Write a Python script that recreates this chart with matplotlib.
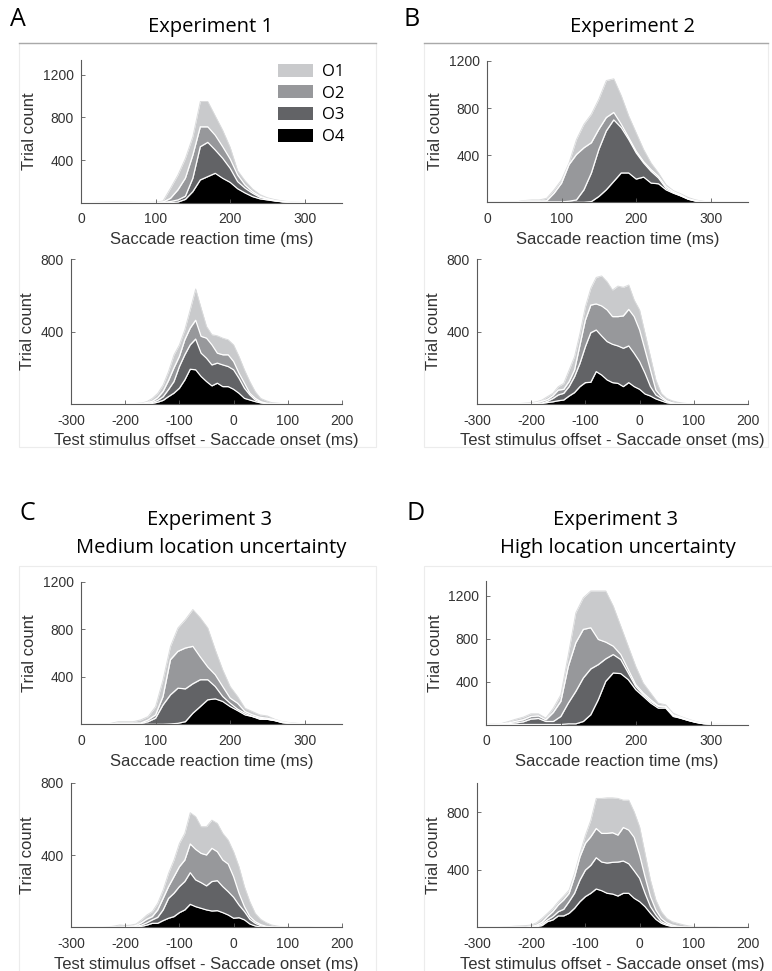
import numpy as np
import matplotlib
matplotlib.use("Agg")
import matplotlib.pyplot as plt
from matplotlib.patches import Rectangle, Patch
from matplotlib.lines import Line2D

plt.rcParams["axes.unicode_minus"] = False

W, H = 772, 971

# bin centres (ms)
rt_bins = list(range(0, 351, 10))
off_bins = list(range(-300, 201, 10))

# stacked trial counts.
# *_o4 = top of O4 layer, *_o3 = top of O3 layer (O4+O3), *_o2 = O4+O3+O2, *_o1 = total

# Experiment 1
a_rt_o4 = [0,0,0,0,0,0,0,0,0,0, 0,0,0,5,30,103,213,244,275,228, 190,130,90,56,35,25,15,7,3,1, 0,0,0,0,0,0]
a_rt_o3 = [0,0,0,0,1,1,1,0,0,0, 0,2,10,25,60,229,525,566,494,416, 322,197,135,88,50,33,18,8,3,1, 0,0,0,0,0,0]
a_rt_o2 = [0,0,1,1,2,2,2,1,1,1, 1,5,40,120,230,447,712,712,633,525, 410,260,165,103,60,35,20,10,4,2, 0,0,0,0,0,0]
a_rt_o1 = [0,0,2,3,5,6,5,3,2,2, 3,15,135,260,416,620,950,950,815,680, 520,300,205,128,75,45,28,15,8,3, 1,0,0,0,0,0]

a_off_o4 = [0,0,0,0,0,0,0,0,0,0, 0,0,0,0,1,3,10,20,41,60, 87,133,192,189,152,124,100,115,96,96,
            81,59,31,22,13,6,2,0,0,0, 0,0,0,0,0,0,0,0,0,0,0]
a_off_o3 = [0,0,0,0,0,0,0,0,0,0, 0,0,0,1,3,8,20,40,80,124, 207,272,327,359,281,253,216,226,216,207,
            189,142,87,50,22,9,3,0,0,0, 0,0,0,0,0,0,0,0,0,0,0]
a_off_o2 = [0,0,0,0,0,0,0,0,0,0, 0,0,1,3,8,15,35,70,130,200, 263,355,420,463,374,364,327,281,272,272,
            235,170,115,59,31,13,5,2,0,0, 0,0,0,0,0,0,0,0,0,0,0]
a_off_o1 = [0,0,0,0,0,0,0,0,0,0, 0,1,3,5,13,31,59,105,180,272, 327,411,522,636,531,429,383,377,364,355,
            327,263,189,124,68,31,18,8,5,2, 2,2,2,2,2,0,0,0,0,0,0]

# Experiment 2
b_rt_o4 = [0,0,0,0,0,0,0,0,0,0, 0,0,0,0,6,49,106,177,249,249, 197,214,163,157,106,77,54,26,10,3, 0,0,0,0,0,0]
b_rt_o3 = [0,0,0,0,0,2,3,3,3,3, 3,9,20,106,249,449,606,700,634,534, 420,334,263,206,120,83,54,26,10,3, 0,0,0,0,0,0]
b_rt_o2 = [1,1,2,2,3,10,10,10,12,77, 163,320,406,463,506,620,720,763,663,549, 434,345,277,220,134,91,63,29,14,5, 2,0,0,0,0,0]
b_rt_o1 = [2,2,3,3,5,15,20,20,34,106, 191,334,534,663,749,877,1034,1049,906,734, 591,449,334,249,149,98,71,40,20,8, 3,0,0,0,0,0]

b_off_o4 = [0,0,0,0,0,0,0,0,0,0, 0,1,3,8,12,18,22,44,63,96, 118,120,179,160,133,118,114,96,118,96,
            81,55,44,28,17,7,2,0,0,0, 0,0,0,0,0,0,0,0,0,0,0]
b_off_o3 = [0,0,0,0,0,0,0,0,0,0, 1,3,5,15,30,50,59,96,151,225, 317,394,409,376,345,330,321,308,321,280,
            234,170,96,50,31,13,4,0,0,0, 0,0,0,0,0,0,0,0,0,0,0]
b_off_o2 = [0,0,0,0,0,0,0,0,0,0, 3,8,15,25,45,77,81,124,188,326, 464,547,553,542,520,483,483,487,523,483,
            409,299,188,77,41,18,7,2,0,0, 0,0,0,0,0,0,0,0,0,0,0]
b_off_o1 = [0,0,0,0,0,0,0,0,3,5, 7,12,22,41,59,96,114,188,262,391, 538,640,700,708,676,630,652,645,658,575,
            520,391,262,133,59,31,18,10,5,2, 2,2,2,2,0,0,0,0,0,0,0]

# Experiment 3, medium location uncertainty
c_rt_o4 = [0,0,0,0,0,0,0,0,0,0, 0,0,3,8,22,93,149,206,214,192, 149,115,79,65,42,42,31,14,7,2, 0,0,0,0,0,0]
c_rt_o3 = [0,0,0,0,2,5,5,5,5,22, 51,163,248,304,298,341,375,375,318,234, 177,127,93,65,51,42,31,14,8,3, 1,0,0,0,0,0]
c_rt_o2 = [0,0,1,1,4,10,10,10,10,37, 79,234,544,614,642,656,566,482,417,318, 220,177,107,79,59,51,37,20,10,5, 2,0,0,0,0,0]
c_rt_o1 = [1,1,2,2,8,22,22,22,37,65, 149,375,656,811,882,966,896,811,628,459, 318,234,135,107,79,70,42,22,14,8, 4,1,1,0,0,0]

c_off_o4 = [0,0,0,0,0,0,0,0,0,0, 0,1,3,5,12,22,22,37,50,59, 81,96,127,114,105,96,90,92,81,68,
            50,53,41,18,7,2,0,0,0,0, 0,0,0,0,0,0,0,0,0,0,0]
c_off_o3 = [0,0,0,0,0,0,0,0,0,0, 0,2,5,12,25,41,55,96,160,188, 225,253,302,262,247,229,253,258,225,197,
            166,123,87,44,22,9,3,0,0,0, 0,0,0,0,0,0,0,0,0,0,0]
c_off_o2 = [0,0,0,0,0,0,0,0,0,0, 2,5,10,25,45,59,96,160,225,280, 335,372,461,431,409,400,437,418,372,350,
            280,188,114,59,31,15,5,2,0,0, 0,0,0,0,0,0,0,0,0,0,0]
c_off_o1 = [0,0,0,0,0,0,0,3,7,13, 10,12,18,41,68,87,133,206,299,372, 464,520,634,612,557,557,593,575,520,483,
            418,335,225,142,77,44,26,13,7,3, 3,3,3,3,3,0,0,0,0,0,0]

# Experiment 3, high location uncertainty
d_rt_o4 = [0,0,0,0,0,0,0,0,0,0, 0,6,6,28,91,231,403,481,475,419, 325,263,200,153,153,75,59,38,20,8, 3,0,0,0,0,0]
d_rt_o3 = [0,1,3,8,15,25,50,56,28,28, 75,200,309,434,519,559,613,653,606,481, 356,278,216,169,163,84,59,38,20,8, 3,0,0,0,0,0]
d_rt_o2 = [1,3,5,15,30,45,75,81,44,113, 216,544,763,888,903,794,769,731,653,513, 372,294,231,175,169,91,69,44,25,10, 4,1,0,0,0,0]
d_rt_o1 = [2,6,8,28,50,69,100,100,59,153, 278,653,1044,1184,1247,1247,1247,1106,919,731, 544,388,294,200,184,106,75,50,28,12, 6,2,1,0,0,0]

d_off_o4 = [0,0,0,0,0,0,0,0,0,0, 1,4,12,39,51,79,79,97,132,178, 213,236,266,254,236,231,217,236,236,201,
            178,143,97,55,28,14,5,2,0,0, 0,0,0,0,0,0,0,0,0,0,0]
d_off_o3 = [0,0,0,0,0,0,0,0,0,0, 2,8,22,51,74,108,125,178,236,328, 397,430,483,453,446,451,453,460,441,392,
            340,236,143,86,39,21,9,3,0,0, 0,0,0,0,0,0,0,0,0,0,0]
d_off_o2 = [0,0,0,0,0,0,0,0,0,0, 5,15,35,74,108,155,190,236,351,490, 583,629,686,652,652,657,640,693,675,624,
            502,351,213,120,62,32,16,7,3,0, 0,0,0,0,0,0,0,0,0,0,0]
d_off_o1 = [0,0,0,0,0,3,5,8,10,12, 16,32,62,97,132,178,217,259,375,513, 640,744,895,895,899,899,895,883,883,802,
            698,513,328,190,109,62,39,28,18,10, 5,5,5,5,5,0,0,0,0,0,0]

labels = ["O1", "O2", "O3", "O4"]
colors = ["#c9cacc", "#97989b", "#626366", "#000000"]

TXT = "#333333"
AXC = "#5a5a5a"
TICKFONT = "Liberation Sans"
HEADFONT = "Open Sans"

fig = plt.figure(figsize=(W / 100, H / 100), dpi=100)


def add_ax(x0, y0, x1, y1):
    # pixel box -> figure fraction
    return fig.add_axes([x0 / W, 1 - y1 / H, (x1 - x0) / W, (y1 - y0) / H])


def stacked(ax, x, o4, o3, o2, o1, xlim, ylim, yticks, xticks, xlabel):
    layers = [np.zeros(len(x)), np.array(o4), np.array(o3), np.array(o2), np.array(o1)]
    fills = colors[::-1]
    for i in range(4):
        ax.fill_between(x, layers[i], layers[i + 1], color=fills[i], lw=0, zorder=1)
    for i in range(1, 4):
        ax.plot(x, layers[i], color="white", lw=0.9, zorder=1.5)
    ax.plot(x, layers[4], color="#dadbdc", lw=0.7, zorder=1.4)
    ax.set_xlim(*xlim)
    ax.set_ylim(0, ylim)
    ax.set_xticks(xticks)
    ax.set_yticks(yticks)
    for s in ["top", "right"]:
        ax.spines[s].set_visible(False)
    for s in ["left", "bottom"]:
        ax.spines[s].set_color(AXC)
        ax.spines[s].set_linewidth(0.8)
        ax.spines[s].set_zorder(3)
    ax.tick_params(direction="in", length=3, width=0.6, color=AXC, labelcolor=TXT, labelsize=10)
    ax.tick_params(axis="x", pad=7)
    ax.tick_params(axis="y", pad=5)
    for t in ax.get_xticklabels() + ax.get_yticklabels():
        t.set_fontfamily(TICKFONT)
    ax.set_xlabel(xlabel, fontsize=12, color=TXT, family=TICKFONT, labelpad=4)
    ax.set_ylabel("Trial count", fontsize=12, color=TXT, family=TICKFONT, labelpad=4)
    ax.patch.set_alpha(0)


rt_label = "Saccade reaction time (ms)"
off_label = "Test stimulus offset - Saccade onset (ms)"
rt_xt = [0, 100, 200, 300]
off_xt = [-300, -200, -100, 0, 100, 200]

# panel frames
def frame(x0, y0, x1, y1, head=None):
    fig.add_artist(Rectangle((x0 / W, 1 - y1 / H), (x1 - x0) / W, (y1 - y0) / H,
                             transform=fig.transFigure, fill=False, ec="#ececec", lw=0.8,
                             zorder=-1))
    if head:
        fig.add_artist(Line2D([x0 / W, x1 / W], [1 - y0 / H, 1 - y0 / H],
                              transform=fig.transFigure, color=head, lw=1.0, zorder=-1))

frame(19, 43, 376, 447, head="#a9a9a9")
frame(424, 43, 768, 447, head="#a9a9a9")
frame(19, 566, 376, 980)
frame(424, 566, 780, 980)

ax = add_ax(81, 60, 342, 202.6)
stacked(ax, rt_bins, a_rt_o4, a_rt_o3, a_rt_o2, a_rt_o1, (0, 350), 1340, [400, 800, 1200], rt_xt, rt_label)
handles = [Patch(facecolor=c, edgecolor="none") for c in colors]
leg = ax.legend(handles, labels, loc="upper left", bbox_to_anchor=(0.73, 1.02), frameon=False,
                handlelength=2.1, handleheight=0.8, handletextpad=0.55, labelspacing=0.33,
                prop={"family": HEADFONT, "size": 12}, borderaxespad=0)
ax = add_ax(71, 259.3, 342, 404)
stacked(ax, off_bins, a_off_o4, a_off_o3, a_off_o2, a_off_o1, (-300, 200), 800, [400, 800], off_xt, off_label)

ax = add_ax(487, 61, 748, 202.3)
stacked(ax, rt_bins, b_rt_o4, b_rt_o3, b_rt_o2, b_rt_o1, (0, 350), 1200, [400, 800, 1200], rt_xt, rt_label)
ax = add_ax(477, 259.3, 748, 404)
stacked(ax, off_bins, b_off_o4, b_off_o3, b_off_o2, b_off_o1, (-300, 200), 800, [400, 800], off_xt, off_label)

ax = add_ax(81, 581.7, 342, 724.3)
stacked(ax, rt_bins, c_rt_o4, c_rt_o3, c_rt_o2, c_rt_o1, (0, 350), 1200, [400, 800, 1200], rt_xt, rt_label)
ax = add_ax(71, 782.7, 342, 927.3)
stacked(ax, off_bins, c_off_o4, c_off_o3, c_off_o2, c_off_o1, (-300, 200), 800, [400, 800], off_xt, off_label)

ax = add_ax(486, 581, 748, 724.5)
stacked(ax, rt_bins, d_rt_o4, d_rt_o3, d_rt_o2, d_rt_o1, (0, 350), 1340, [400, 800, 1200], rt_xt, rt_label)
ax = add_ax(477, 783.3, 748, 927.3)
stacked(ax, off_bins, d_off_o4, d_off_o3, d_off_o2, d_off_o1, (-300, 200), 1000, [400, 800], off_xt, off_label)


def ftext(x, y, s, size, **kw):
    fig.text(x / W, 1 - y / H, s, fontsize=size, family=HEADFONT, color="black",
             ha="center", va="center", **kw)

ftext(18, 19, "A", 18)
ftext(412, 19, "B", 18)
ftext(27, 514, "C", 18)
ftext(416, 514, "D", 18)
ftext(211, 27, "Experiment 1", 14.5)
ftext(632, 27, "Experiment 2", 14.5)
ftext(210, 520, "Experiment 3", 14.5)
ftext(211, 548, "Medium location uncertainty", 14.5)
ftext(616, 520, "Experiment 3", 14.5)
ftext(618, 548, "High location uncertainty", 14.5)

fig.savefig("out.png", dpi=100, facecolor="white")
